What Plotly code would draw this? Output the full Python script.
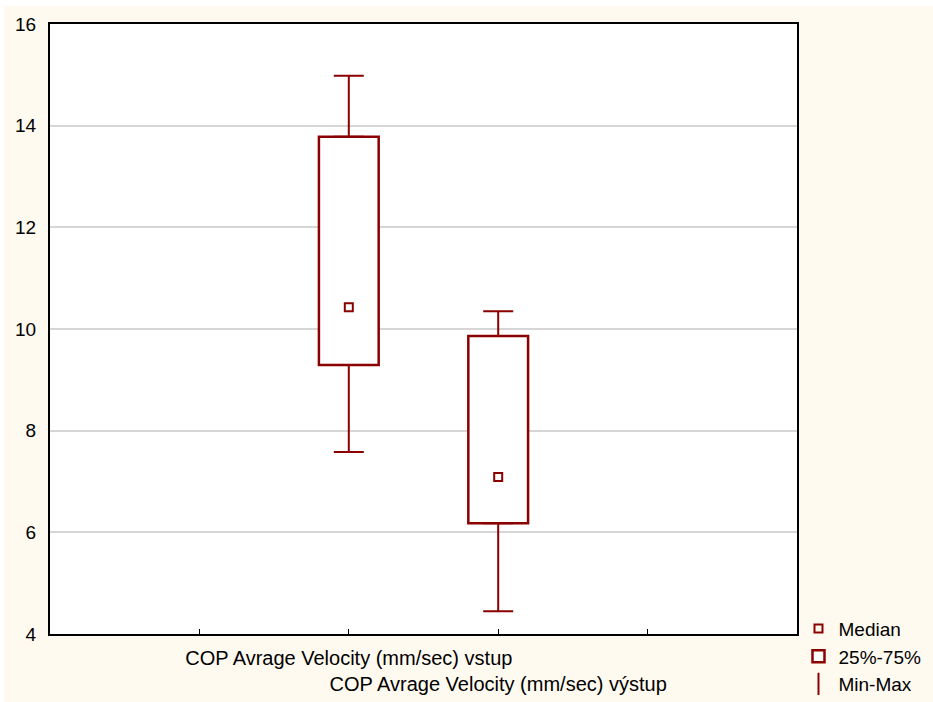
import plotly.graph_objects as go

categories = ["COP Avrage Velocity (mm/sec) vstup", "COP Avrage Velocity (mm/sec) výstup"]
positions = [2, 3]
minimum = [7.58, 4.45]
q1 = [9.29, 6.18]
median = [10.43, 7.09]
q3 = [13.78, 9.86]
maximum = [14.98, 10.35]

y_ticks = [4, 6, 8, 10, 12, 14, 16]

RED = "#8B0000"
CREAM = "#FFFAF0"

fig = go.Figure()

# Whiskers (upper: q3 -> max, lower: min -> q1)
fig.add_trace(go.Scatter(
    x=positions, y=q3, mode="markers",
    marker=dict(color="rgba(0,0,0,0)", size=1),
    error_y=dict(type="data", symmetric=False,
                 array=[mx - a for mx, a in zip(maximum, q3)],
                 arrayminus=[0, 0], color=RED, thickness=2, width=15),
    showlegend=False, hoverinfo="skip"))
fig.add_trace(go.Scatter(
    x=positions, y=q1, mode="markers",
    marker=dict(color="rgba(0,0,0,0)", size=1),
    error_y=dict(type="data", symmetric=False,
                 array=[0, 0],
                 arrayminus=[a - mn for a, mn in zip(q1, minimum)],
                 color=RED, thickness=2, width=15),
    showlegend=False, hoverinfo="skip"))

# Boxes
fig.add_trace(go.Bar(
    x=positions, y=[b - a for a, b in zip(q1, q3)], base=q1,
    width=0.4, marker=dict(color="white", line=dict(color=RED, width=2.5)),
    name="25%-75%", legendrank=2))

# Medians
fig.add_trace(go.Scatter(
    x=positions, y=median, mode="markers",
    marker=dict(symbol="square-open", size=8, color=RED, line=dict(width=2)),
    name="Median", legendrank=1))

# Legend entry for Min-Max
fig.add_trace(go.Scatter(
    x=[None], y=[None], mode="markers",
    marker=dict(symbol="line-ns-open", size=18, color=RED, line=dict(width=2, color=RED)),
    name="Min-Max", legendrank=3))

fig.update_layout(
    width=933, height=702,
    margin=dict(l=50, r=136, t=24, b=68, autoexpand=False),
    paper_bgcolor="white",
    plot_bgcolor="white",
    font=dict(family="Liberation Sans, Arial", size=19, color="black"),
    barmode="overlay",
    showlegend=True,
    legend=dict(x=1.002, y=0.04, xanchor="left", yanchor="top",
                bgcolor="rgba(0,0,0,0)", font=dict(size=19),
                tracegroupgap=0, itemwidth=30, traceorder="normal"),
    shapes=[
        dict(type="rect", xref="paper", yref="paper", layer="below",
             x0=-0.0616, x1=1.2, y0=-0.12, y1=1.0295,
             fillcolor=CREAM, line=dict(width=0)),
        dict(type="rect", xref="paper", yref="paper", layer="below",
             x0=0, x1=1, y0=0, y1=1,
             fillcolor="white", line=dict(width=0)),
    ],
)

fig.update_xaxes(
    range=[0, 5], tickvals=[1, 2, 3, 4],
    ticktext=["", categories[0], "<br>" + categories[1], ""],
    tickangle=0, automargin=False,
    showgrid=False, zeroline=False,
    showline=True, linecolor="black", linewidth=2, mirror=True,
    ticks="inside", ticklen=5, tickcolor="black", tickwidth=1,
    ticklabelstandoff=5,
    tickfont=dict(size=20),
)
fig.update_yaxes(
    range=[4, 16], tickvals=y_ticks, automargin=False,
    showgrid=True, gridcolor="#D6D6D6", gridwidth=1.5, zeroline=False,
    showline=True, linecolor="black", linewidth=2, mirror=True,
    ticks="", ticklabelstandoff=8,
    tickfont=dict(size=19),
)

fig.write_html("out.html")
